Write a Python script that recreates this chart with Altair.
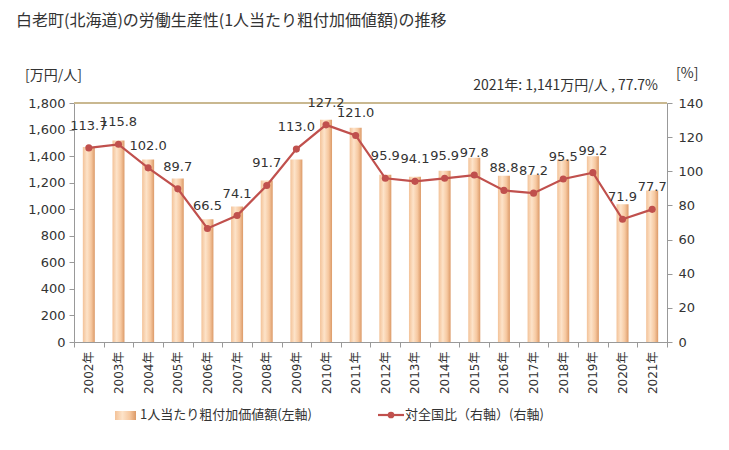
import altair as alt
import pandas as pd

years = [f"{y}年" for y in range(2002, 2022)]
values = [1469, 1517, 1374, 1231, 925, 1020, 1216, 1374, 1674, 1614,
          1259, 1244, 1289, 1387, 1253, 1259, 1374, 1399, 1038, 1141]
ratios = [113.7, 115.8, 102.0, 89.7, 66.5, 74.1, 91.7, 113.0, 127.2, 121.0,
          95.9, 94.1, 95.9, 97.8, 88.8, 87.2, 95.5, 99.2, 71.9, 77.7]
left_ticks = list(range(0, 1801, 200))
right_ticks = list(range(0, 141, 20))

title_text = "白老町(北海道)の労働生産性(1人当たり粗付加価値額)の推移"
note_text = "2021年: 1,141万円/人 , 77.7%"
left_unit = "[万円/人]"
right_unit = "[%]"
legend_bar = "1人当たり粗付加価値額(左軸)"
legend_line = "対全国比（右軸）(右軸)"

df = pd.DataFrame({"year": years, "value": values, "ratio": ratios})

FONT = "DejaVu Sans, Noto Sans CJK JP"
JFONT = "Noto Sans CJK JP"
W, H = 593, 239
LINE_COLOR = "#c0504d"

grad = alt.LinearGradient(
    gradient="linear", x1=0, x2=1, y1=0, y2=0,
    stops=[alt.GradientStop(color="#f3c298", offset=0),
           alt.GradientStop(color="#fde3c9", offset=0.35),
           alt.GradientStop(color="#f6c8a0", offset=0.7),
           alt.GradientStop(color="#dc9a68", offset=1)])

x_enc = alt.X("year:N", sort=years, title=None,
              scale=alt.Scale(paddingInner=0, paddingOuter=0),
              axis=alt.Axis(labelAngle=-90, labelFont=FONT, labelFontSize=12,
                            labelColor="#333", domainColor="#999", tickColor="#999",
                            tickSize=5, tickBand="extent", labelPadding=4))

bars = alt.Chart(df).mark_bar(size=12, color=grad).encode(
    x=x_enc,
    y=alt.Y("value:Q", title=None,
            scale=alt.Scale(domain=[0, 1800], nice=False),
            axis=alt.Axis(orient="left", values=left_ticks, format=",d",
                          labelFont=FONT, labelFontSize=13, labelColor="#333",
                          domainColor="#999", tickColor="#999", tickSize=5,
                          grid=False, labelPadding=4, labelOverlap=False)))

top_rule = alt.Chart(df).mark_rule(color="#c8b890", strokeWidth=1.5).encode(
    x=alt.value(0), x2=alt.value(W), y=alt.value(0))

line_y = alt.Y("ratio:Q", title=None,
               scale=alt.Scale(domain=[0, 140], nice=False),
               axis=alt.Axis(orient="right", values=right_ticks,
                             labelFont=FONT, labelFontSize=13, labelColor="#333",
                             domainColor="#999", tickColor="#999", tickSize=5,
                             grid=False, labelPadding=6, labelOverlap=False,
                             labelFlush=False))

line = alt.Chart(df).mark_line(color=LINE_COLOR, strokeWidth=2.2).encode(
    x=alt.X("year:N", sort=years), y=line_y)
points = alt.Chart(df).mark_point(color=LINE_COLOR, filled=True, size=50, opacity=1).encode(
    x=alt.X("year:N", sort=years), y=line_y)
labels = alt.Chart(df).mark_text(font=FONT, fontSize=13, color="#333",
                                 baseline="middle", dy=-22).encode(
    x=alt.X("year:N", sort=years), y=line_y,
    text=alt.Text("ratio:Q", format=".1f"))

right_layer = alt.layer(line, points, labels)

ann = pd.DataFrame({"t": [0]})
def txt(text, x, y, size=14, align="left", font=JFONT, color="#333"):
    return alt.Chart(ann).mark_text(text=text, font=font, fontSize=size, align=align,
                                    baseline="middle", color=color).encode(
        x=alt.value(x), y=alt.value(y))

title = txt(title_text, -58, -82, size=16)
lunit = txt(left_unit, -49, -27, size=14)
runit = txt(right_unit, 602, -29, size=14)
note = txt(note_text, 584, -17, size=14, align="right")
leg_swatch = alt.Chart(ann).mark_rect(color=grad).encode(
    x=alt.value(41), x2=alt.value(62), y=alt.value(308), y2=alt.value(317))
leg_text1 = txt(legend_bar, 66, 312, size=13)
leg_line = alt.Chart(ann).mark_rule(color=LINE_COLOR, strokeWidth=2.2).encode(
    x=alt.value(304), x2=alt.value(330), y=alt.value(312))
leg_pt = alt.Chart(ann).mark_point(color=LINE_COLOR, filled=True, size=45, opacity=1).encode(
    x=alt.value(317), y=alt.value(312))
leg_text2 = txt(legend_line, 331, 312, size=13)

left_layer = alt.layer(bars, top_rule, title, lunit, runit, note,
                       leg_swatch, leg_text1, leg_line, leg_pt, leg_text2)

chart = alt.layer(left_layer, right_layer).resolve_scale(y="independent").properties(
    width=W, height=H,
    autosize=alt.AutoSizeParams(type="none"),
    padding={"left": 66, "top": 95, "right": 50, "bottom": 90},
).configure_view(stroke=None).configure(background="white")

chart.save("out.html", embed_options={"renderer": "svg", "actions": False})
